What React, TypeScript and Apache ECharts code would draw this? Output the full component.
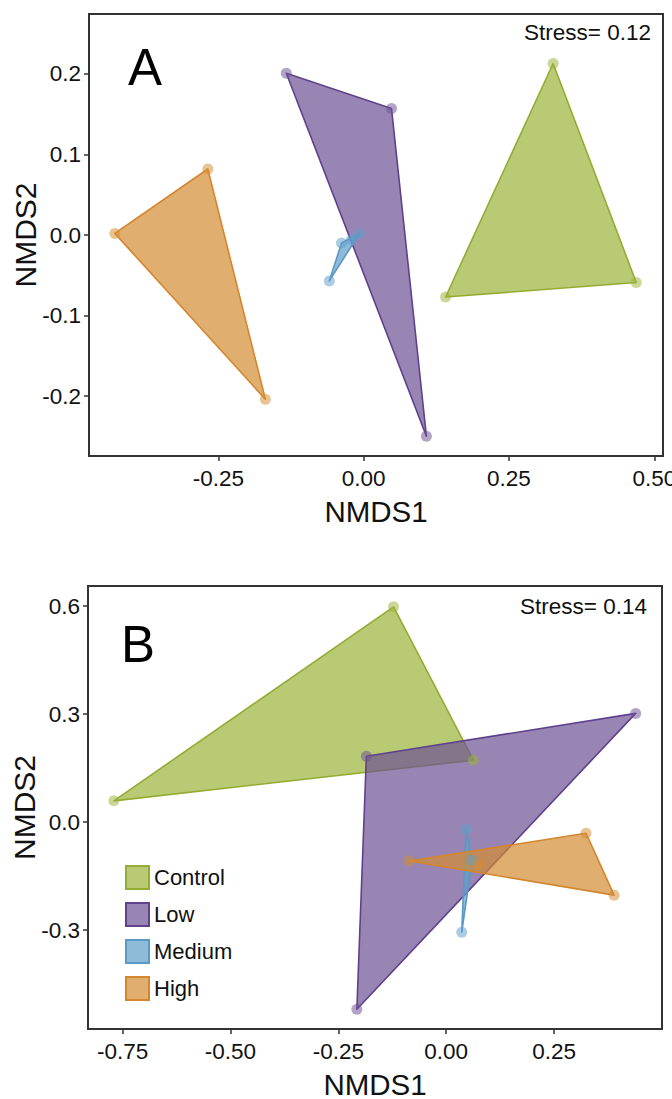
import React, { useEffect, useRef } from 'react';
import * as echarts from 'echarts';

const groups = ['Control', 'Low', 'Medium', 'High'];
const baseColors = ['#9bb33a', '#6d5194', '#5f9ec9', '#d38c31'];
const strokeColors = ['#93ac33', '#5f418c', '#5a99c4', '#d3862d'];

// Panel A points (NMDS1, NMDS2)
const aControl = [[0.326, 0.213], [0.141, -0.077], [0.469, -0.059]];
const aLow = [[-0.133, 0.201], [0.048, 0.157], [0.108, -0.25]];
const aMedium = [[-0.059, -0.057], [-0.038, -0.01], [-0.021, -0.006], [-0.007, 0.002]];
const aHigh = [[-0.428, 0.002], [-0.268, 0.082], [-0.169, -0.204]];

// Panel B points
const bControl = [[-0.77, 0.059], [-0.122, 0.598], [0.063, 0.172]];
const bLow = [[-0.185, 0.183], [0.439, 0.302], [-0.207, -0.52]];
const bMedium = [[0.046, -0.019], [0.06, -0.106], [0.036, -0.306]];
const bHigh = [[-0.086, -0.108], [0.324, -0.031], [0.389, -0.203], [0.074, -0.117]];

const aXTicks = [-0.25, 0, 0.25, 0.5];
const aYTicks = [-0.2, -0.1, 0, 0.1, 0.2];
const bXTicks = [-0.75, -0.5, -0.25, 0, 0.25];
const bYTicks = [-0.3, 0, 0.3, 0.6];

const stressA = 'Stress= 0.12';
const stressB = 'Stress= 0.14';

const FONT = '"Liberation Sans", Arial, sans-serif';

function rgba(hex: string, a: number) {
  const n = parseInt(hex.slice(1), 16);
  return `rgba(${(n >> 16) & 255},${(n >> 8) & 255},${n & 255},${a})`;
}

function hull(points: number[][]) {
  const p = points.slice().sort((a, b) => a[0] - b[0] || a[1] - b[1]);
  const cross = (o: number[], a: number[], b: number[]) =>
    (a[0] - o[0]) * (b[1] - o[1]) - (a[1] - o[1]) * (b[0] - o[0]);
  const lower: number[][] = [];
  for (const pt of p) {
    while (lower.length >= 2 && cross(lower[lower.length - 2], lower[lower.length - 1], pt) <= 0) lower.pop();
    lower.push(pt);
  }
  const upper: number[][] = [];
  for (let i = p.length - 1; i >= 0; i--) {
    const pt = p[i];
    while (upper.length >= 2 && cross(upper[upper.length - 2], upper[upper.length - 1], pt) <= 0) upper.pop();
    upper.push(pt);
  }
  upper.pop();
  lower.pop();
  return lower.concat(upper);
}

function makeAxisX(gridIndex: number, min: number, max: number, ticks: number[]) {
  return {
    type: 'value', gridIndex, min, max,
    splitLine: { show: false },
    axisLine: { show: true, onZero: false, lineStyle: { color: '#333', width: 2 } },
    axisTick: { show: true, length: 5, lineStyle: { color: '#333', width: 1.5 }, customValues: ticks },
    axisLabel: { customValues: ticks, formatter: (v: number) => v.toFixed(2), fontSize: 22.5, color: '#111', margin: 11, fontFamily: FONT },
    name: 'NMDS1', nameLocation: 'middle', nameGap: 40,
    nameTextStyle: { fontSize: 29.5, color: '#111', fontFamily: FONT },
  };
}

function makeAxisY(gridIndex: number, min: number, max: number, ticks: number[]) {
  return {
    type: 'value', gridIndex, min, max,
    splitLine: { show: false },
    axisLine: { show: true, onZero: false, lineStyle: { color: '#333', width: 2 } },
    axisTick: { show: true, length: 5, lineStyle: { color: '#333', width: 1.5 }, customValues: ticks },
    axisLabel: { customValues: ticks, formatter: (v: number) => v.toFixed(1), fontSize: 22.5, color: '#111', margin: 8, fontFamily: FONT },
    name: 'NMDS2', nameLocation: 'middle', nameGap: 49, nameRotate: 90, nameMoveOverlap: false,
    nameTextStyle: { fontSize: 30, color: '#111', fontFamily: FONT },
  };
}

function panelSeries(axisIndex: number, sets: number[][][]) {
  const out: any[] = [];
  sets.forEach((pts, i) => {
    const h = hull(pts);
    out.push({
      type: 'custom', name: groups[i], xAxisIndex: axisIndex, yAxisIndex: axisIndex,
      data: h, encode: { x: 0, y: 1 }, z: 2 + i * 0.01, silent: true,
      renderItem: (params: any, api: any) => {
        if (params.dataIndex !== 0) return null;
        const coords = h.map((p) => api.coord(p));
        return {
          type: 'polygon', shape: { points: coords },
          style: { fill: rgba(baseColors[i], 0.7), stroke: strokeColors[i], lineWidth: 1.6, lineJoin: 'round' },
        };
      },
    });
  });
  sets.forEach((pts, i) => {
    out.push({
      type: 'scatter', name: groups[i], xAxisIndex: axisIndex, yAxisIndex: axisIndex,
      data: pts, symbol: 'circle', symbolSize: 11, z: 3, silent: true,
      itemStyle: { color: rgba(baseColors[i], 0.65) },
    });
  });
  return out;
}

export default function App() {
  const ref = useRef<HTMLDivElement>(null);
  useEffect(() => {
    document.body.style.margin = '0';
    if (!ref.current) return;
    const chart = echarts.init(ref.current, null, { renderer: 'svg' });
    const option: any = {
      animation: false,
      backgroundColor: '#fff',
      grid: [
        { left: 89, top: 14, width: 574, height: 442, show: true, borderColor: '#333', borderWidth: 2, backgroundColor: '#fff', containLabel: false, outerBoundsMode: 'none' },
        { left: 88, top: 586, width: 574, height: 443, show: true, borderColor: '#333', borderWidth: 2, backgroundColor: '#fff', containLabel: false, outerBoundsMode: 'none' },
      ],
      xAxis: [makeAxisX(0, -0.4724, 0.515, aXTicks), makeAxisX(1, -0.83, 0.5, bXTicks)],
      yAxis: [makeAxisY(0, -0.2745, 0.2745, aYTicks), makeAxisY(1, -0.575, 0.656, bYTicks)],
      legend: {
        left: 120, top: 860, orient: 'vertical', itemWidth: 23, itemHeight: 23, itemGap: 12,
        selectedMode: false,
        textStyle: { fontSize: 22, color: '#111', fontFamily: FONT },
        data: groups.map((g, i) => ({
          name: g, icon: 'rect',
          itemStyle: { color: rgba(baseColors[i], 0.7), borderColor: strokeColors[i], borderWidth: 2 },
        })),
      },
      graphic: [
        { type: 'text', x: 128, y: 67.5, style: { text: 'A', fontSize: 51, fontFamily: FONT, fill: '#000', align: 'left', verticalAlign: 'middle' } },
        { type: 'text', x: 121, y: 644.5, style: { text: 'B', fontSize: 51, fontFamily: FONT, fill: '#000', align: 'left', verticalAlign: 'middle' } },
        { type: 'text', x: 651, y: 32.5, style: { text: stressA, fontSize: 22.5, fontFamily: FONT, fill: '#111', align: 'right', verticalAlign: 'middle' } },
        { type: 'text', x: 647, y: 606.5, style: { text: stressB, fontSize: 22.5, fontFamily: FONT, fill: '#111', align: 'right', verticalAlign: 'middle' } },
      ],
      series: [
        ...panelSeries(0, [aControl, aLow, aMedium, aHigh]),
        ...panelSeries(1, [bControl, bLow, bMedium, bHigh]),
      ],
    };
    chart.setOption(option);
    return () => chart.dispose();
  }, []);
  return <div ref={ref} style={{ width: 672, height: 1099 }} />;
}
